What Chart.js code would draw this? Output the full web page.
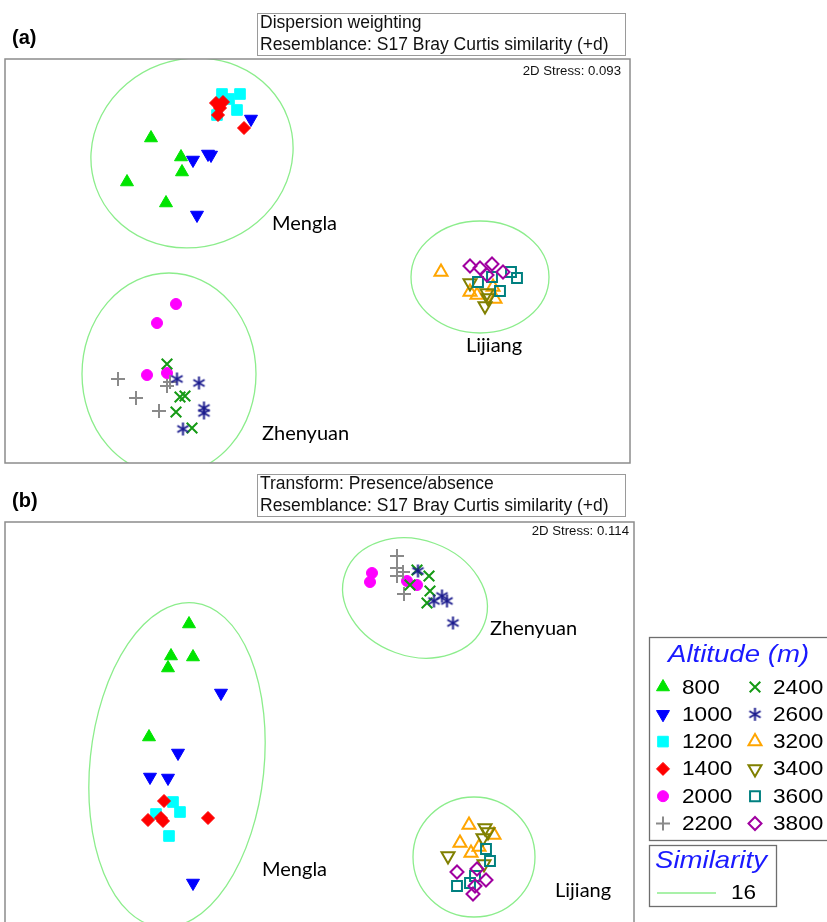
<!DOCTYPE html>
<html>
<head>
<meta charset="utf-8">
<script src="https://cdn.jsdelivr.net/npm/chart.js@4.4.0/dist/chart.umd.min.js"></script>
<style>
    html, body { margin: 0; padding: 0; background: #fff; }
    body { width: 827px; height: 922px; position: relative; overflow: hidden; font-family: 'Liberation Sans', Arial, sans-serif; }
    canvas { position: absolute; left: 0; }
    .tag { position: absolute; left: 12px; font-weight: bold; font-size: 20px; line-height: 24px; }
    .tbox { position: absolute; border: 1px solid #9a9a9a; box-sizing: border-box; }
    .ttext { position: absolute; font-size: 17.5px; line-height: 22px; white-space: nowrap; color: #111; }
</style>
</head>
<body>
<canvas id="chartA" width="827" height="470" style="top:0"></canvas>
<canvas id="chartB" width="827" height="460" style="top:470px"></canvas>

<div class="tag" style="top:25px">(a)</div>
<div class="tbox" style="left:257px; top:13px; width:369px; height:43px"></div>
<div class="ttext" style="left:260px; top:11px">Dispersion weighting<br>Resemblance: S17 Bray Curtis similarity (+d)</div>

<div class="tag" style="top:488px">(b)</div>
<div class="tbox" style="left:257px; top:474px; width:369px; height:43px"></div>
<div class="ttext" style="left:260px; top:472px">Transform: Presence/absence<br>Resemblance: S17 Bray Curtis similarity (+d)</div>

<script>
// --- Data: sample positions (page pixels) ---
const altitudes = ['800', '1000', '1200', '1400', '2000', '2200', '2400', '2600', '3200', '3400', '3600', '3800'];

// (a) dispersion weighting
const a800  = [[151, 138], [181, 157], [182, 172], [127, 182], [166, 203]];
const a1000 = [[251, 119], [193, 160], [208, 154], [211, 155], [197, 215]];
const a1200 = [[222, 94], [240, 94], [229, 99], [237, 110], [217, 115]];
const a1400 = [[216, 103], [223, 102], [220, 108], [218, 115], [244, 128]];
const a2000 = [[176, 304], [157, 323], [147, 375], [167, 373]];
const a2200 = [[118, 379], [136, 398], [159, 411], [167, 386], [170, 382]];
const a2400 = [[167, 364], [180, 397], [185, 396], [176, 412], [192, 428]];
const a2600 = [[177, 379], [199, 383], [204, 408], [204, 413], [183, 429]];
const a3200 = [[441, 272], [470, 292], [477, 295], [493, 287], [495, 299]];
const a3400 = [[470, 283], [487, 293], [488, 298], [485, 306]];
const a3600 = [[478, 282], [492, 277], [511, 272], [517, 278], [500, 291]];
const a3800 = [[470, 266], [480, 268], [492, 264], [487, 275], [503, 272]];

// (b) presence/absence
const b800  = [[189, 624], [171, 656], [193, 657], [168, 668], [149, 737]];
const b1000 = [[221, 693], [178, 753], [150, 777], [168, 778], [193, 883]];
const b1200 = [[173, 802], [180, 812], [156, 814], [169, 836]];
const b1400 = [[164, 801], [208, 818], [148, 820], [161, 818], [163, 821]];
const b2000 = [[372, 573], [370, 582], [407, 581], [417, 585]];
const b2200 = [[397, 556], [397, 568], [397, 576], [403, 572], [404, 594]];
const b2400 = [[417, 570], [429, 576], [410, 585], [430, 591], [427, 603]];
const b2600 = [[418, 571], [442, 596], [434, 601], [447, 601], [453, 623]];
const b3200 = [[469, 825], [460, 843], [471, 853], [479, 847], [494, 835]];
const b3400 = [[485, 828], [488, 832], [483, 838], [448, 856], [484, 864]];
const b3600 = [[486, 849], [490, 861], [475, 876], [457, 886], [470, 883]];
const b3800 = [[457, 872], [477, 869], [486, 880], [475, 886], [473, 894]];

// similarity 16 contours: [cx, cy, rx, ry, tilt deg]
const aContours = [[192, 153, 102, 94, -20], [169, 374, 87, 101, 0], [480, 277, 69, 56, 0]];
const bContours = [[177, 765, 87, 163, 6], [415, 598, 74, 58, 20], [474, 857, 61, 60, 0]];

// group names and where they sit
const aGroups = [['Mengla', 272, 224], ['Zhenyuan', 262, 434], ['Lijiang', 466, 346]];
const bGroups = [['Zhenyuan', 490, 629], ['Mengla', 262, 870], ['Lijiang', 555, 891]];

const aStress = '2D Stress: 0.093';
const bStress = '2D Stress: 0.114';
const similarityLevel = '16';

// six-armed asterisk for 2600 m (Chart.js 'star' has eight arms)
function asterisk(color, size) {
    const c = document.createElement('canvas');
    c.width = c.height = size;
    const g = c.getContext('2d');
    const r = size / 2 - 1;
    g.strokeStyle = color;
    g.lineWidth = 2;
    [90, 30, 150].forEach(deg => {
        const t = deg * Math.PI / 180;
        g.beginPath();
        g.moveTo(size / 2 - Math.cos(t) * r, size / 2 - Math.sin(t) * r);
        g.lineTo(size / 2 + Math.cos(t) * r, size / 2 + Math.sin(t) * r);
        g.stroke();
    });
    return c;
}

// --- Marker styles per altitude ---
const markerStyles = {
    '800':  { pointStyle: 'triangle', color: '#00e400', fill: true, radius: 7.5, rotation: 0 },
    '1000': { pointStyle: 'triangle', color: '#0000ff', fill: true, radius: 7.5, rotation: 180 },
    '1200': { pointStyle: 'rect', color: '#00ffff', fill: true, radius: 7.5, rotation: 0 },
    '1400': { pointStyle: 'rectRot', color: '#ff0000', fill: true, radius: 6.5, rotation: 0 },
    '2000': { pointStyle: 'circle', color: '#ff00ff', fill: true, radius: 5.5, rotation: 0 },
    '2200': { pointStyle: 'cross', color: '#8a8a8a', fill: false, radius: 7, rotation: 0 },
    '2400': { pointStyle: 'crossRot', color: '#149a14', fill: false, radius: 7.5, rotation: 0 },
    '2600': { pointStyle: asterisk('#1c1c8e', 15), color: '#1c1c8e', fill: false, radius: 7, rotation: 0 },
    '3200': { pointStyle: 'triangle', color: '#ffa500', fill: false, radius: 7.5, rotation: 0 },
    '3400': { pointStyle: 'triangle', color: '#808000', fill: false, radius: 7.5, rotation: 180 },
    '3600': { pointStyle: 'rect', color: '#008080', fill: false, radius: 7, rotation: 0 },
    '3800': { pointStyle: 'rectRot', color: '#a000a0', fill: false, radius: 6.5, rotation: 0 }
};
const contourColor = '#8ced8c';

// --- Helpers ---
function stretchText(ctx, text, x, y, font, color, sx, align) {
    ctx.save();
    ctx.translate(x, y);
    ctx.scale(sx, 1);
    ctx.font = font;
    ctx.fillStyle = color;
    ctx.textBaseline = 'middle';
    ctx.textAlign = align || 'left';
    ctx.fillText(text, 0, 0);
    ctx.restore();
}

// ellipses, group names, stress and frame for one panel
const panelFrame = {
    id: 'panelFrame',
    beforeDatasetsDraw(chart, args, opts) {
        const { ctx, chartArea: a, scales: { x, y } } = chart;
        ctx.save();
        ctx.beginPath();
        ctx.rect(a.left, a.top, a.right - a.left, a.bottom - a.top);
        ctx.clip();
        ctx.strokeStyle = contourColor;
        ctx.lineWidth = 1.3;
        opts.contours.forEach(([cx, cy, rx, ry, tilt]) => {
            const px = x.getPixelForValue(cx), py = y.getPixelForValue(cy);
            ctx.beginPath();
            ctx.ellipse(px, py,
                Math.abs(x.getPixelForValue(cx + rx) - px),
                Math.abs(y.getPixelForValue(cy + ry) - py),
                tilt * Math.PI / 180, 0, Math.PI * 2);
            ctx.stroke();
        });
        ctx.restore();

        opts.groups.forEach(([name, gx, gy]) => {
            stretchText(ctx, name, x.getPixelForValue(gx), y.getPixelForValue(gy), '20px Lato, "Open Sans", sans-serif', '#000', 1);
        });
        stretchText(ctx, opts.stress, opts.stressX, a.top + opts.stressDy, '12px "Liberation Sans", Arial, sans-serif', '#111', 1.1, 'right');

        ctx.save();
        ctx.strokeStyle = '#8c8c8c';
        ctx.lineWidth = 1.5;
        ctx.strokeRect(a.left, a.top, a.right - a.left, a.bottom - a.top);
        ctx.restore();
    }
};

// altitude + similarity key, drawn on panel (b)
const altitudeKey = {
    id: 'altitudeKey',
    afterDraw(chart) {
        const ctx = chart.ctx;
        const dy = -470; // canvas offset on the page
        ctx.save();
        ctx.strokeStyle = '#6e6e6e';
        ctx.lineWidth = 1.3;
        ctx.strokeRect(649.5, 637.5 + dy, 200, 203);
        ctx.strokeRect(649.5, 845.5 + dy, 127, 61);
        stretchText(ctx, 'Altitude (m)', 668, 655 + dy, 'italic 24px "Liberation Sans", Arial, sans-serif', '#1a1aff', 1.15);

        altitudes.forEach((alt, i) => {
            const col = Math.floor(i / 6), row = i % 6;
            const mx = col ? 755 : 663;
            const tx = col ? 773 : 682;
            const my = 687 + row * 27.3 + dy;
            const st = markerStyles[alt];
            ctx.fillStyle = st.fill ? st.color : 'rgba(0,0,0,0)';
            ctx.strokeStyle = st.color;
            ctx.lineWidth = st.fill ? 1 : 2;
            Chart.helpers.drawPoint(ctx, {
                pointStyle: st.pointStyle, radius: st.radius, rotation: st.rotation, borderWidth: ctx.lineWidth
            }, mx, my);
            stretchText(ctx, alt, tx, my + 1, '20px "Liberation Sans", Arial, sans-serif', '#000', 1.13);
        });

        stretchText(ctx, 'Similarity', 655, 861 + dy, 'italic 24px "Liberation Sans", Arial, sans-serif', '#1a1aff', 1.15);
        ctx.strokeStyle = contourColor;
        ctx.lineWidth = 1.3;
        ctx.beginPath();
        ctx.moveTo(657, 893 + dy);
        ctx.lineTo(716, 893 + dy);
        ctx.stroke();
        stretchText(ctx, similarityLevel, 731, 893 + dy, '20px "Liberation Sans", Arial, sans-serif', '#000', 1.13);
        ctx.restore();
    }
};

function buildDatasets(series) {
    return altitudes.map((alt, i) => {
        const st = markerStyles[alt];
        return {
            label: alt,
            data: series[i].map(([x, y]) => ({ x, y })),
            order: -i,
            pointStyle: st.pointStyle,
            pointRadius: st.radius,
            pointRotation: st.rotation,
            backgroundColor: st.fill ? st.color : 'rgba(0,0,0,0)',
            borderColor: st.color,
            borderWidth: st.fill ? 1 : 2
        };
    });
}

function makePanel(id, series, frameOpts, bounds, padding, extraPlugins) {
    return new Chart(document.getElementById(id), {
        type: 'scatter',
        data: { datasets: buildDatasets(series) },
        options: {
            responsive: false,
            animation: false,
            events: [],
            layout: { padding, autoPadding: false },
            plugins: {
                legend: { display: false },
                tooltip: { enabled: false },
                panelFrame: frameOpts
            },
            scales: {
                x: { type: 'linear', display: false, min: bounds[0], max: bounds[1] },
                y: { type: 'linear', display: false, min: bounds[2], max: bounds[3], reverse: true }
            }
        },
        plugins: [panelFrame].concat(extraPlugins)
    });
}

makePanel('chartA',
    [a800, a1000, a1200, a1400, a2000, a2200, a2400, a2600, a3200, a3400, a3600, a3800],
    { contours: aContours, groups: aGroups, stress: aStress, stressX: 621, stressDy: 13 },
    [5, 630, 59, 463],
    { left: 5, right: 197, top: 59, bottom: 7 },
    []);

// panel (b) runs past the bottom of the page, so its lower border is not seen
makePanel('chartB',
    [b800, b1000, b1200, b1400, b2000, b2200, b2400, b2600, b3200, b3400, b3600, b3800],
    { contours: bContours, groups: bGroups, stress: bStress, stressX: 629, stressDy: 10 },
    [5, 634, 522, 926],
    { left: 5, right: 193, top: 52, bottom: 4 },
    [altitudeKey]);
</script>
</body>
</html>
